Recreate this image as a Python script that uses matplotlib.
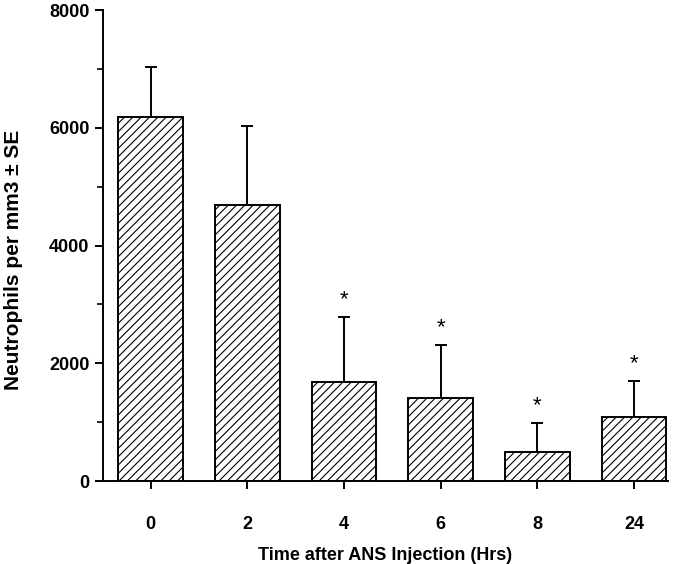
import matplotlib
matplotlib.use("Agg")
import matplotlib.pyplot as plt
import numpy as np

plt.rcParams['font.family'] = ['Liberation Sans', 'DejaVu Sans']
plt.rcParams['hatch.linewidth'] = 0.8

# data
times = ['0', '2', '4', '6', '8', '24']
means = [6180, 4690, 1680, 1410, 500, 1090]
se = [850, 1340, 1105, 900, 490, 610]
significant = [False, False, True, True, True, True]

fig = plt.figure(figsize=(6.85, 5.64), dpi=100)
ax = fig.add_axes([0.150, 0.147, 0.825, 0.835])

x = np.arange(len(times))
ax.bar(x, means, width=0.67, color='white', edgecolor='black',
       linewidth=1.4, hatch='////', zorder=2)
ax.errorbar(x, means, yerr=[np.zeros(len(se)), se], fmt='none',
            ecolor='black', elinewidth=1.4, capsize=4, capthick=1.4, zorder=1)

for xi, m, s, sig in zip(x, means, se, significant):
    if sig:
        ax.annotate('*', (xi, m + s), xytext=(0, 5), textcoords='offset points',
                    ha='center', va='bottom', fontsize=16)

ax.set_xlim(-0.495, 5.35)
ax.set_ylim(0, 8000)
ax.set_xticks(x)
ax.set_xticklabels(times, fontsize=13, fontweight='bold')
ax.set_yticks([0, 2000, 4000, 6000, 8000])
ax.set_yticks([1000, 3000, 5000, 7000], minor=True)
for lab in ax.get_yticklabels():
    lab.set_fontsize(13)
    lab.set_fontweight('bold')

ax.tick_params(axis='both', which='major', length=6, width=1.4, direction='out')
ax.tick_params(axis='y', which='minor', length=4, width=1.2, direction='out')
ax.tick_params(axis='x', pad=19)
ax.spines['top'].set_visible(False)
ax.spines['right'].set_visible(False)
ax.spines['left'].set_linewidth(1.4)
ax.spines['bottom'].set_linewidth(1.4)

ax.set_xlabel('Time after ANS Injection (Hrs)', fontsize=13, fontweight='bold', labelpad=10)
ax.set_ylabel('Neutrophils per mm3 \u00b1 SE', fontsize=15, fontweight='bold', va='center')
ax.yaxis.set_label_coords(-0.158, 0.47)

fig.savefig('out.png', dpi=100)
